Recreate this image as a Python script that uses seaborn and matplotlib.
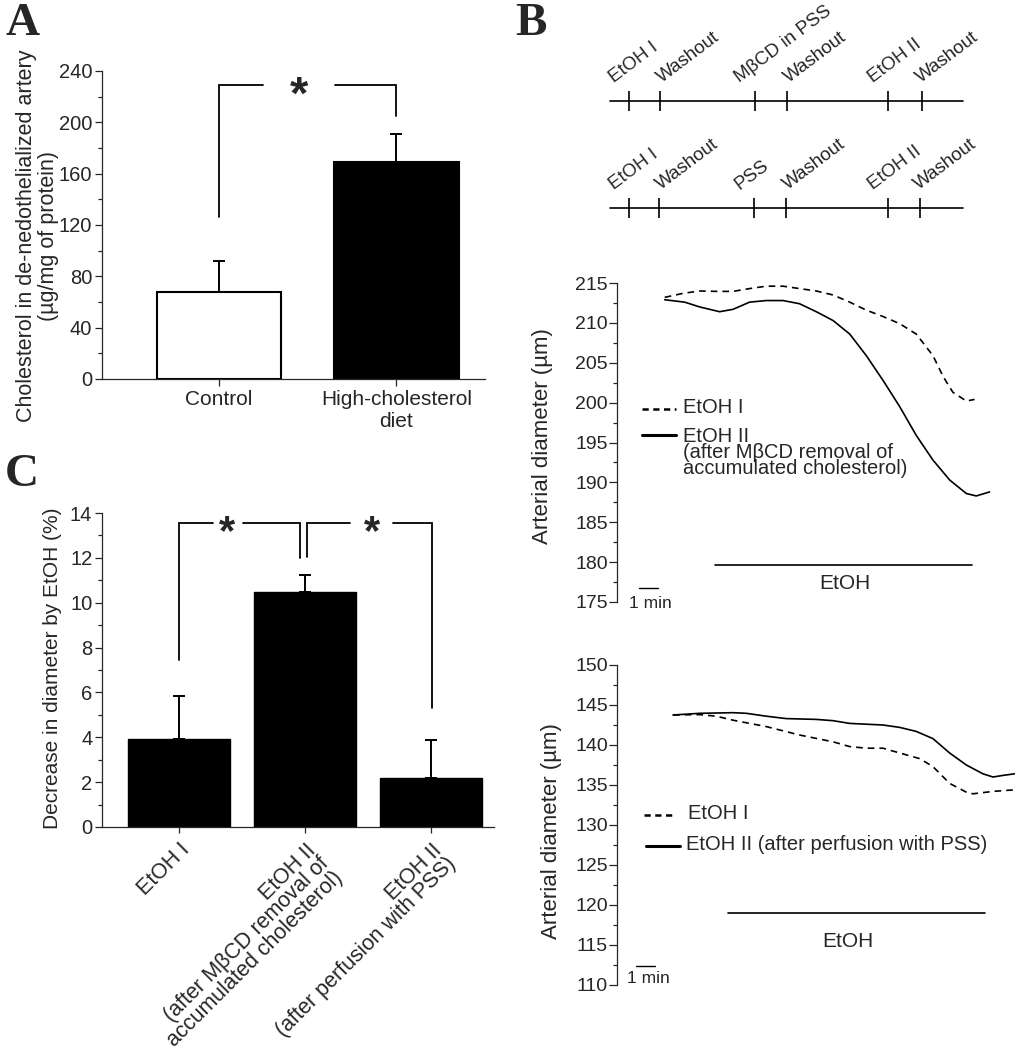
import numpy as np
import pandas as pd
import seaborn as sns
import matplotlib.pyplot as plt
from matplotlib.ticker import MultipleLocator

# ---- data ----
# panel A: cholesterol in de-endothelialized artery
chol_groups = ['Control', 'High-cholesterol\ndiet']
chol_mean = [68, 169]
chol_err = [24, 22]

# panel C: decrease in diameter by EtOH (%)
dec_groups = ['EtOH I',
              'EtOH II\n(after MβCD removal of\naccumulated cholesterol)',
              'EtOH II\n(after perfusion with PSS)']
dec_mean = [3.92, 10.47, 2.18]
dec_err = [1.94, 0.78, 1.70]

# panel B: protocols (event times, min)
proto1_labels = ['EtOH I', 'Washout', 'MβCD in PSS', 'Washout', 'EtOH II', 'Washout']
proto1_times = [0.65, 2.26, 7.26, 8.96, 14.28, 16.04]
proto2_labels = ['EtOH I', 'Washout', 'PSS', 'Washout', 'EtOH II', 'Washout']
proto2_times = [0.62, 2.21, 7.23, 8.89, 14.25, 15.96]

# panel B: diameter traces (time in min, diameter in um)
mbcd_t_I = [2.51, 3.47, 4.35, 5.23, 6.11, 6.98, 7.86, 8.74, 9.61, 10.49, 11.37,
            12.25, 13.12, 14.0, 14.88, 15.75, 16.63, 17.16, 17.68, 18.39, 18.82]
mbcd_d_I = [213.2, 213.7, 214.0, 213.95, 213.95, 214.3, 214.6, 214.6, 214.3, 214.0, 213.5,
            212.6, 211.6, 210.8, 209.9, 208.6, 205.9, 203.3, 201.3, 200.2, 200.4]
mbcd_t_II = [2.51, 3.56, 4.35, 5.40, 6.11, 6.98, 7.86, 8.74, 9.61, 10.49, 11.37,
             12.25, 13.12, 14.0, 14.88, 15.75, 16.63, 17.51, 18.39, 18.91, 19.61]
mbcd_d_II = [212.9, 212.6, 212.0, 211.4, 211.7, 212.6, 212.8, 212.8, 212.4, 211.4, 210.3,
             208.6, 205.9, 202.8, 199.5, 195.9, 192.8, 190.3, 188.6, 188.3, 188.8]
pss_t_I = [2.95, 4.35, 5.23, 6.11, 7.86, 9.61, 11.37, 12.25, 13.12, 14.0, 14.88,
           15.93, 16.63, 17.51, 18.39, 18.74, 19.79, 20.93]
pss_d_I = [143.75, 143.8, 143.6, 143.1, 142.3, 141.25, 140.4, 139.8, 139.6, 139.6, 139.0,
           138.3, 137.3, 135.2, 134.1, 133.9, 134.2, 134.4]
pss_t_II = [2.95, 4.35, 6.11, 6.81, 7.86, 8.91, 10.49, 11.37, 12.25, 13.12, 14.0,
            14.88, 15.75, 16.63, 17.51, 18.39, 19.26, 19.79, 20.32, 20.93]
pss_d_II = [143.75, 143.96, 144.04, 143.96, 143.6, 143.3, 143.2, 143.04, 142.7, 142.6, 142.5,
            142.2, 141.7, 140.8, 139.0, 137.5, 136.4, 136.0, 136.2, 136.4]

# EtOH application periods (min)
etoh_mbcd = [5.14, 18.7]
etoh_pss = [5.84, 19.35]

# ---- style ----
sns.set_style('ticks')
plt.rcParams['font.family'] = ['Liberation Sans', 'DejaVu Sans']
plt.rcParams['axes.linewidth'] = 0.9

fig = plt.figure(figsize=(10.15, 10.5), dpi=100)
W, H = 1015, 1050


def box(x0, y0, x1, y1):
    # pixel box -> figure fraction
    return [x0 / W, 1 - y1 / H, (x1 - x0) / W, (y1 - y0) / H]


def bracket(ax, pts, lw=1.3):
    xs, ys = zip(*pts)
    ax.plot(xs, ys, color='black', lw=lw, clip_on=False, solid_joinstyle='miter')


def star(ax, x, y, size):
    ax.annotate('*', xy=(x, y), xytext=(0, -0.5 * size), textcoords='offset points',
                ha='center', va='baseline', fontsize=size, fontweight='bold')


# ---- panel A ----
axA = fig.add_axes(box(102, 71, 485, 379))
sns.barplot(x=chol_groups, y=chol_mean, hue=chol_groups, palette=['white', 'black'],
            edgecolor='black', linewidth=1.5, width=0.70, saturation=1, legend=False, ax=axA)
axA.errorbar(range(2), chol_mean, yerr=[np.zeros(2), chol_err], fmt='none', ecolor='black',
             elinewidth=1.4, capsize=4.5, capthick=1.4)
axA.set_xlim(-0.659, 1.499)
axA.set_ylim(0, 240)
axA.yaxis.set_major_locator(MultipleLocator(40))
axA.yaxis.set_minor_locator(MultipleLocator(20))
axA.tick_params(axis='y', labelsize=14.5, length=5, width=0.9, pad=2)
axA.tick_params(axis='y', which='minor', length=3, width=0.9)
axA.tick_params(axis='x', labelsize=15, length=5, width=0.9, pad=3)
axA.set_ylabel('Cholesterol in de-nedothelialized artery\n(µg/mg of protein)', fontsize=15.5,
               linespacing=1.1)
axA.yaxis.set_label_coords(-0.112, 0.465)
axA.set_xlabel('')
sns.despine(ax=axA)
bracket(axA, [(0, 126), (0, 229), (0.248, 229)])
bracket(axA, [(0.654, 229), (1.0, 229), (1.0, 205)])
star(axA, 0.45, 229, 34)

# ---- panel C ----
axC = fig.add_axes(box(102, 513, 494, 827))
sns.barplot(x=list(range(3)), y=dec_mean, color='black', edgecolor='black', linewidth=1,
            width=0.81, saturation=1, ax=axC)
axC.errorbar(range(3), dec_mean, yerr=[np.zeros(3), dec_err], fmt='none', ecolor='black',
             elinewidth=1.4, capsize=4.5, capthick=1.4)
axC.set_xlim(-0.611, 2.5)
axC.set_ylim(0, 14)
axC.yaxis.set_major_locator(MultipleLocator(2))
axC.yaxis.set_minor_locator(MultipleLocator(1))
axC.tick_params(axis='y', labelsize=14.5, length=5, width=0.9, pad=2)
axC.tick_params(axis='y', which='minor', length=3, width=0.9)
axC.tick_params(axis='x', length=4, width=0.9, pad=5)
axC.set_xticks(range(3))
axC.set_xticklabels(dec_groups, rotation=45, ha='right', va='top', rotation_mode='anchor',
                    multialignment='right', fontsize=15.5, linespacing=0.9)
axC.set_ylabel('Decrease in diameter by EtOH (%)', fontsize=15)
axC.yaxis.set_label_coords(-0.102, 0.505)
sns.despine(ax=axC)
bracket(axC, [(0, 7.44), (0, 13.55), (0.27, 13.55)])
bracket(axC, [(0.508, 13.55), (0.96, 13.55), (0.96, 12.0)])
bracket(axC, [(1.016, 12.06), (1.016, 13.55), (1.357, 13.55)])
bracket(axC, [(1.698, 13.55), (2.008, 13.55), (2.008, 5.29)])
star(axC, 0.38, 13.55, 30)
star(axC, 1.53, 13.55, 30)

# ---- panel B: protocols ----
axP = fig.add_axes(box(617, 40, 1015, 230))
axP.set_xlim(0, 20.95)
axP.set_ylim(-0.206, 1.570)
axP.axis('off')
label_dx = [-15, 2, -15, 2, -15, -1]
for row, labels, times in [(1, proto1_labels, proto1_times), (0, proto2_labels, proto2_times)]:
    axP.plot([-0.37, 18.21], [row, row], color='black', lw=1.2, clip_on=False)
    axP.plot(times, [row] * len(times), ls='none', marker='|', ms=15, mew=1.2,
             color='black', clip_on=False)
    for lab, t, dx in zip(labels, times, label_dx):
        axP.annotate(lab, xy=(t, row), xytext=(dx * 0.72, 13), textcoords='offset points',
                     rotation=37, rotation_mode='anchor', ha='left', va='baseline',
                     fontsize=13.5)

# ---- panel B: traces ----
dash_map = {'EtOH I': (4, 3), 'EtOH II': ''}


def trace_panel(rect, t1, d1, t2, d2, ylim, etoh, etoh_y):
    ax = fig.add_axes(rect)
    df = pd.DataFrame({
        'time': t1 + t2,
        'diameter': d1 + d2,
        'trace': ['EtOH I'] * len(t1) + ['EtOH II'] * len(t2),
    })
    sns.lineplot(data=df, x='time', y='diameter', style='trace', dashes=dash_map,
                 color='black', linewidth=1.2, estimator=None, legend=False, ax=ax)
    ax.set_xlim(0, 20.95)
    ax.set_ylim(*ylim)
    ax.yaxis.set_major_locator(MultipleLocator(5))
    ax.yaxis.set_minor_locator(MultipleLocator(2.5))
    ax.tick_params(axis='y', labelsize=14, length=5.5, width=0.9, pad=1)
    ax.tick_params(axis='y', which='minor', length=3, width=0.9)
    ax.set_xticks([])
    ax.set_xlabel('')
    ax.set_ylabel('Arterial diameter (µm)', fontsize=16)
    sns.despine(ax=ax, bottom=True)
    # EtOH bar
    ax.plot(etoh, [etoh_y, etoh_y], color='black', lw=1.2)
    return ax


axB1 = trace_panel(box(617, 283, 1015, 602), mbcd_t_I, mbcd_d_I, mbcd_t_II, mbcd_d_II,
                   (175, 215), etoh_mbcd, 179.7)
axB1.yaxis.set_label_coords(-0.161, 0.52)
axB1.text(11.98, 177.3, 'EtOH', ha='center', va='center', fontsize=15)
axB1.plot([1.16, 2.16], [176.7, 176.7], color='black', lw=1)
axB1.text(1.75, 174.8, '1 min', ha='center', va='center', fontsize=12.5)
axB1.plot([1.33, 3.09], [199.2, 199.2], color='black', lw=1.8, dashes=(2.5, 1.8))
axB1.text(3.47, 199.4, 'EtOH I', ha='left', va='center', fontsize=14.5)
axB1.plot([1.33, 3.09], [196.0, 196.0], color='black', lw=2.2)
axB1.text(3.47, 197.0, 'EtOH II\n(after MβCD removal of\naccumulated cholesterol)',
          ha='left', va='top', fontsize=14.5, linespacing=0.82)

axB2 = trace_panel(box(617, 665, 1015, 985), pss_t_I, pss_d_I, pss_t_II, pss_d_II,
                   (110, 150), etoh_pss, 119.0)
axB2.yaxis.set_label_coords(-0.139, 0.482)
axB2.text(12.16, 115.4, 'EtOH', ha='center', va='center', fontsize=15)
axB2.plot([1.02, 2.02], [112.4, 112.4], color='black', lw=1)
axB2.text(1.67, 110.8, '1 min', ha='center', va='center', fontsize=12.5)
axB2.plot([1.4, 3.12], [131.25, 131.25], color='black', lw=1.8, dashes=(2.5, 1.8))
axB2.text(3.74, 131.4, 'EtOH I', ha='left', va='center', fontsize=14.5)
axB2.plot([1.54, 3.3], [127.4, 127.4], color='black', lw=2.2)
axB2.text(3.65, 127.5, 'EtOH II (after perfusion with PSS)', ha='left', va='center',
          fontsize=14.5)

# ---- panel letters ----
for letter, x, y in [('A', 5, 35), ('B', 515, 35), ('C', 5, 486)]:
    fig.text(x / W, 1 - y / H, letter, ha='left', va='baseline', fontsize=34,
             fontweight='bold', family='Liberation Serif')

fig.savefig('out.png', dpi=100)
